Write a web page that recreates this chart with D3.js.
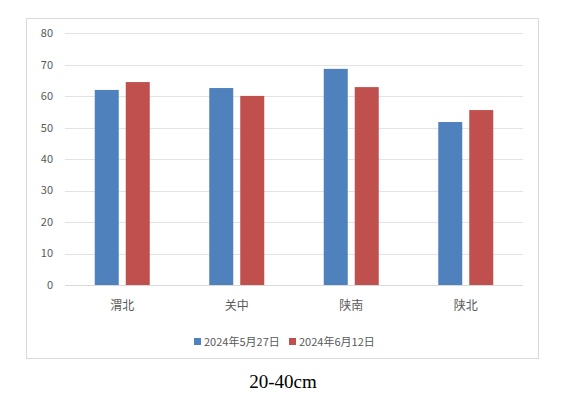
<!DOCTYPE html>
<html>
<head>
<meta charset="utf-8">
<script src="https://cdn.jsdelivr.net/npm/d3@7"></script>
<style>
  body { margin: 0; background: #fff; }
  svg text { font-family: "Noto Sans CJK SC", "Microsoft YaHei", sans-serif; }
</style>
</head>
<body>
<div id="container"></div>
<script>
// data
var regions = ['渭北', '关中', '陕南', '陕北']
var seriesNames = ['2024年5月27日', '2024年6月12日']
var may27 = [62.0, 62.6, 68.7, 51.8]
var jun12 = [64.5, 60.1, 62.9, 55.6]
var yTicks = [0, 10, 20, 30, 40, 50, 60, 70, 80]
var colors = ['#4f81bd', '#c0504d']

var W = 574, H = 395
var plot = { left: 65, right: 523, top: 33.3, bottom: 285 }

var svg = d3.select('#container').append('svg')
    .attr('width', W).attr('height', H)

// chart frame
svg.append('rect')
    .attr('x', 26.5).attr('y', 18.5)
    .attr('width', 512).attr('height', 340)
    .attr('fill', '#fff').attr('stroke', '#d9d9d9')

var x0 = d3.scaleBand().domain(regions).range([plot.left, plot.right])
var y = d3.scaleLinear().domain([0, 80]).range([plot.bottom, plot.top])

// gridlines
svg.append('g').selectAll('line')
    .data(yTicks.slice(1))
    .enter().append('line')
    .attr('x1', plot.left).attr('x2', plot.right)
    .attr('y1', function(d) { return Math.round(y(d)) + 0.5 })
    .attr('y2', function(d) { return Math.round(y(d)) + 0.5 })
    .attr('stroke', '#e3e3e3')

// y labels
svg.append('g').selectAll('text')
    .data(yTicks)
    .enter().append('text')
    .attr('x', 53).attr('y', function(d) { return y(d) })
    .attr('dy', '0.35em')
    .attr('text-anchor', 'end')
    .style('font-size', '11px')
    .style('fill', '#595959')
    .text(function(d) { return d })

// bars
var barW = 24, gap = 7
var series = [may27, jun12]
series.forEach(function(vals, si) {
    svg.append('g').selectAll('rect')
        .data(vals)
        .enter().append('rect')
        .attr('x', function(d, i) {
            var c = x0(regions[i]) + x0.bandwidth() / 2
            return si === 0 ? c - gap / 2 - barW : c + gap / 2
        })
        .attr('y', function(d) { return y(d) })
        .attr('width', barW)
        .attr('height', function(d) { return y(0) - y(d) })
        .attr('fill', colors[si])
})

// baseline
svg.append('line')
    .attr('x1', plot.left).attr('x2', plot.right)
    .attr('y1', 285.5).attr('y2', 285.5)
    .attr('stroke', '#d9d9d9')

// category labels
svg.append('g').selectAll('text')
    .data(regions)
    .enter().append('text')
    .attr('x', function(d) { return x0(d) + x0.bandwidth() / 2 })
    .attr('y', 306)
    .attr('dy', '0.35em')
    .attr('text-anchor', 'middle')
    .style('font-size', '12px')
    .style('fill', '#595959')
    .text(function(d) { return d })

// legend
var legX = [194, 289]
seriesNames.forEach(function(name, i) {
    svg.append('rect')
        .attr('x', legX[i]).attr('y', 338)
        .attr('width', 7).attr('height', 7)
        .attr('fill', colors[i])
    svg.append('text')
        .attr('x', legX[i] + 10).attr('y', 342)
        .attr('dy', '0.35em')
        .style('font-size', '11px')
        .style('fill', '#595959')
        .text(name)
})

// caption
svg.append('text')
    .attr('x', 283).attr('y', 381)
    .attr('dy', '0.35em')
    .attr('text-anchor', 'middle')
    .style('font-family', '"Liberation Serif", "Times New Roman", serif')
    .style('font-size', '19px')
    .style('fill', '#000')
    .text('20-40cm')
</script>
</body>
</html>
